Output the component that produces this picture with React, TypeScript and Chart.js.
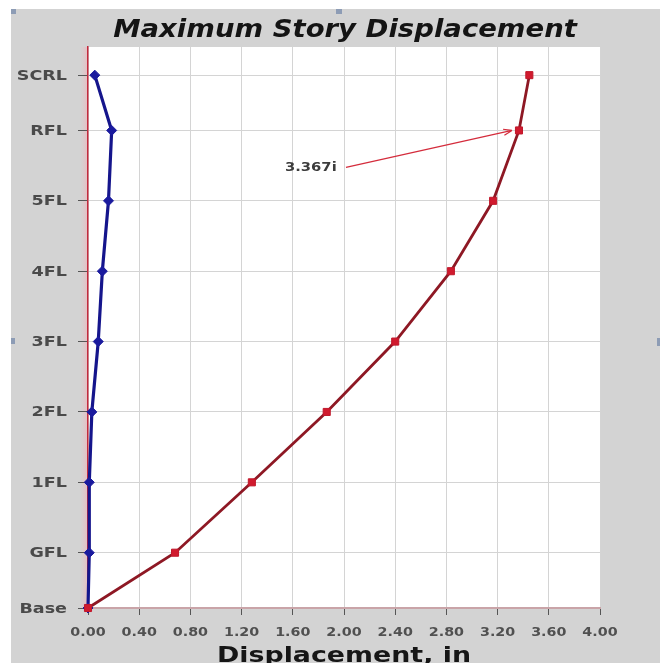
import React, { useEffect, useRef } from "react";
import { Chart, registerables } from "chart.js";

Chart.register(...registerables);

// Story levels, bottom to top, with their elevations (ft)
const STORIES = ["Base", "GFL", "1FL", "2FL", "3FL", "4FL", "5FL", "RFL", "SCRL"];
const ELEVATIONS = [0, 11, 25, 39, 53, 67, 81, 95, 106];
const TOP_ELEVATION = 111.6;

// Maximum story displacement (in) per level
const DISP_X = [0, 0.68, 1.28, 1.865, 2.4, 2.835, 3.165, 3.367, 3.448];
const DISP_Y = [0, 0.01, 0.01, 0.03, 0.08, 0.112, 0.16, 0.185, 0.053];

// Horizontal axis ticks
const X_TICKS = [0, 0.4, 0.8, 1.2, 1.6, 2.0, 2.4, 2.8, 3.2, 3.6, 4.0];

// Callout on the roof level of the X series
const CALLOUT_INDEX = 7;
const CALLOUT_TEXT = `${DISP_X[CALLOUT_INDEX].toFixed(3)}i`;

const TITLE = "Maximum Story Displacement";
const X_TITLE = "Displacement, in";

const FONT = "'DejaVu Sans', Verdana, sans-serif";

function drawStretched(
  ctx: CanvasRenderingContext2D,
  text: string,
  x: number,
  y: number,
  font: string,
  color: string,
  align: CanvasTextAlign,
  baseline: CanvasTextBaseline,
  stretch: number
) {
  ctx.save();
  ctx.font = font;
  ctx.fillStyle = color;
  ctx.textAlign = align;
  ctx.textBaseline = baseline;
  ctx.translate(x, y);
  ctx.scale(stretch, 1);
  ctx.fillText(text, 0, 0);
  ctx.restore();
}

const framePlugin = {
  id: "frame",
  beforeDraw(chart: any) {
    const { ctx, width, height, chartArea: a } = chart;
    ctx.save();
    ctx.fillStyle = "#d3d3d3";
    ctx.fillRect(0, 0, width, height);
    ctx.fillStyle = "#ffffff";
    ctx.fillRect(a.left, a.top, a.right - a.left, a.bottom - a.top);
    // soft pink band along the vertical axis line
    const g = ctx.createLinearGradient(a.left - 8, 0, a.left, 0);
    g.addColorStop(0, "rgba(232,196,200,0)");
    g.addColorStop(1, "rgba(232,186,192,0.95)");
    ctx.fillStyle = g;
    ctx.fillRect(a.left - 8, a.top, 8, a.bottom - a.top);
    // small frame handles
    ctx.fillStyle = "#8d9cb5";
    ctx.fillRect(0, 0, 5, 5);
    ctx.fillRect(325, 0, 6, 5);
    ctx.fillRect(0, 329, 4, 6);
    ctx.fillRect(width - 3, 329, 3, 8);
    ctx.restore();
  },
  afterDraw(chart: any) {
    const { ctx, chartArea: a, scales } = chart;
    const xs = scales.x;
    const ys = scales.y;
    const cx = (a.left + a.right) / 2;

    // chart title
    drawStretched(ctx, TITLE, cx + 1, 28, `italic bold 25px ${FONT}`, "#141414", "center", "alphabetic", 1.1);

    // story labels
    STORIES.forEach((name, i) => {
      const y = ys.getPixelForValue(ELEVATIONS[i]);
      drawStretched(ctx, name, a.left - 21, y + 1, `bold 13.5px ${FONT}`, "#4a4a4a", "right", "middle", 1.3);
    });

    // displacement tick labels
    X_TICKS.forEach((v) => {
      const x = xs.getPixelForValue(v);
      drawStretched(ctx, v.toFixed(2), x, a.bottom + 25, `bold 13px ${FONT}`, "#505050", "center", "middle", 1.1);
    });

    // axis title
    drawStretched(ctx, X_TITLE, cx, a.bottom + 54, `bold 22px ${FONT}`, "#161616", "center", "alphabetic", 1.22);

    // callout with arrow to the roof point
    const px = xs.getPixelForValue(DISP_X[CALLOUT_INDEX]);
    const py = ys.getPixelForValue(ELEVATIONS[CALLOUT_INDEX]);
    const tipX = px - 7;
    const tipY = py;
    const startX = px - 173;
    const startY = py + 37;
    ctx.save();
    ctx.strokeStyle = "#d42c3c";
    ctx.lineWidth = 1.2;
    ctx.beginPath();
    ctx.moveTo(startX, startY);
    ctx.lineTo(tipX, tipY);
    const ang = Math.atan2(tipY - startY, tipX - startX);
    const hl = 9;
    ctx.moveTo(tipX, tipY);
    ctx.lineTo(tipX - hl * Math.cos(ang - 0.35), tipY - hl * Math.sin(ang - 0.35));
    ctx.moveTo(tipX, tipY);
    ctx.lineTo(tipX - hl * Math.cos(ang + 0.35), tipY - hl * Math.sin(ang + 0.35));
    ctx.stroke();
    ctx.restore();
    drawStretched(ctx, CALLOUT_TEXT, px - 234, startY, `bold 12.5px ${FONT}`, "#3c3c3c", "left", "middle", 1.18);
  },
};

export default function App() {
  const canvasRef = useRef<HTMLCanvasElement | null>(null);

  useEffect(() => {
    if (!canvasRef.current) return;
    const chart = new Chart(canvasRef.current, {
      type: "scatter",
      data: {
        datasets: [
          {
            label: "X",
            data: STORIES.map((_, i) => ({ x: DISP_X[i], y: ELEVATIONS[i] })),
            showLine: true,
            borderColor: "#8e1824",
            borderWidth: 2.8,
            backgroundColor: "#d01a2e",
            pointBorderColor: "#c0182b",
            pointBorderWidth: 1,
            pointStyle: "rect",
            pointRadius: 5,
            tension: 0,
            clip: false,
          },
          {
            label: "Y",
            data: STORIES.map((_, i) => ({ x: DISP_Y[i], y: ELEVATIONS[i] })),
            showLine: true,
            borderColor: "#15158c",
            borderWidth: 3.2,
            backgroundColor: "#1a1a9e",
            pointBorderColor: "#1a1a9e",
            pointBorderWidth: 1,
            pointStyle: "rectRot",
            pointRadius: 5,
            tension: 0,
            clip: false,
          },
        ],
      },
      options: {
        animation: false,
        responsive: true,
        maintainAspectRatio: false,
        layout: { padding: { top: 38, right: 60, left: 0, bottom: 0 } },
        plugins: {
          legend: { display: false },
          tooltip: { enabled: false },
          title: { display: false },
        },
        scales: {
          x: {
            type: "linear",
            min: 0,
            max: 4,
            afterBuildTicks: (s: any) => {
              s.ticks = X_TICKS.map((v) => ({ value: v }));
            },
            afterFit: (s: any) => {
              s.height = 55;
            },
            ticks: { display: false },
            grid: { color: "#d4d4d4", lineWidth: 1, tickColor: "#555555", tickLength: 7 },
            border: { color: "#c9a4a8", width: 2 },
          },
          y: {
            type: "linear",
            min: 0,
            max: TOP_ELEVATION,
            afterBuildTicks: (s: any) => {
              s.ticks = ELEVATIONS.map((v) => ({ value: v }));
            },
            afterFit: (s: any) => {
              s.width = 77;
            },
            ticks: { display: false },
            grid: { color: "#d4d4d4", lineWidth: 1, tickColor: "#555555", tickLength: 10 },
            border: { color: "#c3283c", width: 1.5 },
          },
        },
      },
      plugins: [framePlugin],
    } as any);
    return () => chart.destroy();
  }, []);

  return (
    <div style={{ position: "fixed", left: 11, top: 9, width: 649, height: 654 }}>
      <canvas ref={canvasRef} />
    </div>
  );
}
